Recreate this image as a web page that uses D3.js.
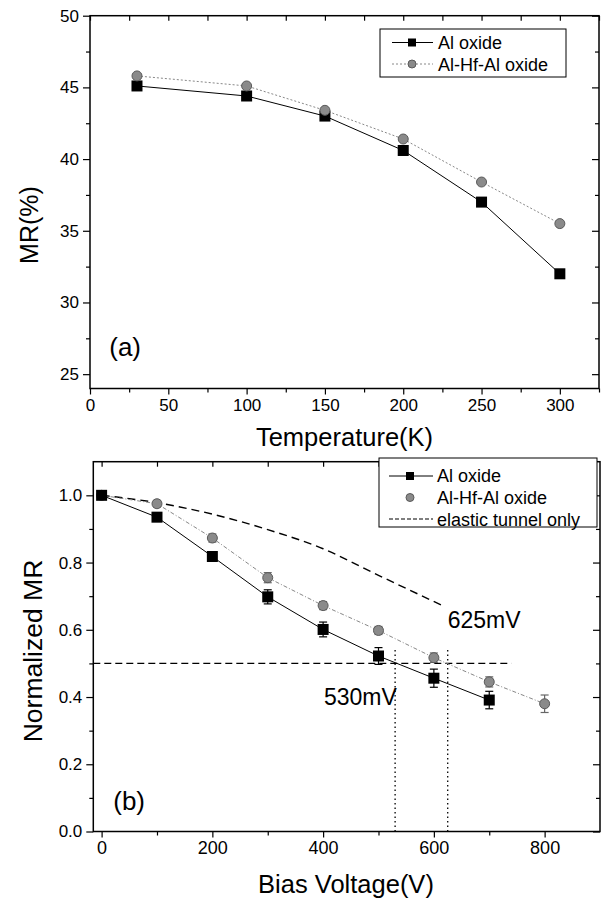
<!DOCTYPE html>
<html>
<head>
<meta charset="utf-8">
<script src="https://cdn.jsdelivr.net/npm/d3@7"></script>
<style>
  body { margin: 0; background: #fff; }
  svg { display: block; font-family: "Liberation Sans", Arial, Helvetica, sans-serif; }
  .tick text { fill: #000; }
</style>
</head>
<body>
<svg id="chart" width="606" height="899"></svg>
<script>
// ---------- Data ----------
// Panel (a): MR vs temperature
const tempK      = [30, 100, 150, 200, 250, 300];
const mrAlOx     = [45.1, 44.4, 43.0, 40.6, 37.0, 32.0];
const mrAlHfAlOx = [45.8, 45.1, 43.4, 41.4, 38.4, 35.5];
const tempTicks  = [0, 50, 100, 150, 200, 250, 300];
const tempMinor  = [25, 75, 125, 175, 225, 275, 325];
const mrTicks    = [25, 30, 35, 40, 45, 50];
const mrMinor    = [27.5, 32.5, 37.5, 42.5, 47.5];

// Panel (b): normalized MR vs bias voltage
const biasAl      = [0, 100, 200, 300, 400, 500, 600, 700];
const normAl      = [1.0, 0.935, 0.818, 0.698, 0.601, 0.522, 0.456, 0.391];
const errAl       = [0.008, 0.010, 0.010, 0.021, 0.022, 0.025, 0.027, 0.026];
const biasHf      = [0, 100, 200, 300, 400, 500, 600, 700, 800];
const normHf      = [1.0, 0.975, 0.873, 0.755, 0.672, 0.598, 0.517, 0.445, 0.380];
const errHf       = [0.006, 0.010, 0.012, 0.015, 0.012, 0.012, 0.014, 0.015, 0.026];
const elasticV    = [0, 100, 200, 300, 400, 500, 617];
const elasticMR   = [1.0, 0.978, 0.944, 0.898, 0.841, 0.762, 0.671];
const halfLevel   = [0.5];
const crossV      = [530, 625];
const biasTicks   = [0, 200, 400, 600, 800];
const biasMinor   = [100, 300, 500, 700];
const normTicks   = [0.0, 0.2, 0.4, 0.6, 0.8, 1.0];
const normMinor   = [0.1, 0.3, 0.5, 0.7, 0.9];

const svg = d3.select("#chart");
const FONT_TICK = 17;

function frame(g, x, y) {
  const [x0, x1] = x.range(), [y0, y1] = y.range();
  g.append("rect").attr("x", x0).attr("y", y1).attr("width", x1 - x0).attr("height", y0 - y1)
    .attr("fill", "none").attr("stroke", "#000").attr("stroke-width", 1.5);
}

function axes(g, x, y, xMajor, xMinor, yMajor, yMinor, xFmt, yFmt, xFont) {
  const [x0, x1] = x.range(), [y0, y1] = y.range();
  const b = g.append("g").attr("transform", `translate(0,${y0})`)
    .call(d3.axisBottom(x).tickValues(xMajor).tickSize(6).tickPadding(4).tickFormat(xFmt));
  b.selectAll("text").attr("font-size", xFont).attr("font-family", "Liberation Sans, Arial");
  g.append("g").attr("transform", `translate(0,${y0})`)
    .call(d3.axisBottom(x).tickValues(xMinor).tickSize(4).tickFormat(""));
  g.append("g").attr("transform", `translate(0,${y1})`)
    .call(d3.axisTop(x).tickValues(xMajor.concat(xMinor)).tickSize(-5).tickFormat(""));
  const l = g.append("g").attr("transform", `translate(${x0},0)`)
    .call(d3.axisLeft(y).tickValues(yMajor).tickSize(7).tickPadding(4).tickFormat(yFmt));
  l.selectAll("text").attr("font-size", FONT_TICK).attr("font-family", "Liberation Sans, Arial");
  g.append("g").attr("transform", `translate(${x0},0)`)
    .call(d3.axisLeft(y).tickValues(yMinor).tickSize(4).tickFormat(""));
  g.append("g").attr("transform", `translate(${x1},0)`)
    .call(d3.axisRight(y).tickValues(yMajor).tickSize(-7).tickFormat(""));
  g.append("g").attr("transform", `translate(${x1},0)`)
    .call(d3.axisRight(y).tickValues(yMinor).tickSize(-4).tickFormat(""));
  g.selectAll(".domain").remove();
  g.selectAll(".tick line").attr("stroke", "#000").attr("stroke-width", 1.2);
  frame(g, x, y);
}

function squares(g, xs, ys, x, y, s) {
  g.selectAll(null).data(xs.map((v, i) => [v, ys[i]])).join("rect")
    .attr("x", d => x(d[0]) - s / 2).attr("y", d => y(d[1]) - s / 2)
    .attr("width", s).attr("height", s).attr("fill", "#000");
}
function circles(g, xs, ys, x, y, r) {
  g.selectAll(null).data(xs.map((v, i) => [v, ys[i]])).join("circle")
    .attr("cx", d => x(d[0])).attr("cy", d => y(d[1])).attr("r", r)
    .attr("fill", "#8a8a8a").attr("stroke", "#5a5a5a").attr("stroke-width", 1);
}
function errorBars(g, xs, ys, es, x, y, color) {
  const data = xs.map((v, i) => [v, ys[i], es[i]]);
  const eb = g.append("g").attr("stroke", color).attr("stroke-width", 1.2);
  eb.selectAll(null).data(data).join("line")
    .attr("x1", d => x(d[0])).attr("x2", d => x(d[0]))
    .attr("y1", d => y(d[1] - d[2])).attr("y2", d => y(d[1] + d[2]));
  eb.selectAll(null).data(data.flatMap(d => [[d[0], d[1] - d[2]], [d[0], d[1] + d[2]]])).join("line")
    .attr("x1", d => x(d[0]) - 4).attr("x2", d => x(d[0]) + 4)
    .attr("y1", d => y(d[1])).attr("y2", d => y(d[1]));
}

// ================= Panel (a) =================
const xa = d3.scaleLinear().domain([0, 325]).range([90, 599]);
const ya = d3.scaleLinear().domain([24, 50]).range([388.5, 15.7]);
const ga = svg.append("g");
axes(ga, xa, ya, tempTicks, tempMinor, mrTicks, mrMinor, d3.format("d"), d3.format("d"), FONT_TICK);

const lineA = d3.line().x(d => xa(d[0])).y(d => ya(d[1]));
ga.append("path").datum(tempK.map((v, i) => [v, mrAlOx[i]])).attr("d", lineA)
  .attr("fill", "none").attr("stroke", "#000").attr("stroke-width", 1);
ga.append("path").datum(tempK.map((v, i) => [v, mrAlHfAlOx[i]])).attr("d", lineA)
  .attr("fill", "none").attr("stroke", "#888").attr("stroke-width", 1).attr("stroke-dasharray", "2,2");
squares(ga, tempK, mrAlOx, xa, ya, 11);
circles(ga, tempK, mrAlHfAlOx, xa, ya, 5);

ga.append("text").attr("x", xa(12.3)).attr("y", ya(26.3)).attr("font-size", 26).text("(a)");

// Legend (a)
const la = ga.append("g");
la.append("rect").attr("x", 380).attr("y", 29).attr("width", 186).attr("height", 48)
  .attr("fill", "#fff").attr("stroke", "#000").attr("stroke-width", 1);
la.append("line").attr("x1", 392).attr("x2", 433).attr("y1", 42.5).attr("y2", 42.5).attr("stroke", "#000");
la.append("rect").attr("x", 408).attr("y", 38.5).attr("width", 8).attr("height", 8).attr("fill", "#000");
la.append("line").attr("x1", 392).attr("x2", 433).attr("y1", 64).attr("y2", 64)
  .attr("stroke", "#888").attr("stroke-dasharray", "2,2");
la.append("circle").attr("cx", 412).attr("cy", 64).attr("r", 4).attr("fill", "#8a8a8a").attr("stroke", "#5a5a5a");
la.append("text").attr("x", 438).attr("y", 49).attr("font-size", 18).text("Al oxide");
la.append("text").attr("x", 438).attr("y", 70.5).attr("font-size", 18).text("Al-Hf-Al oxide");

// Axis titles (a)
svg.append("text").attr("x", 344.5).attr("y", 446).attr("text-anchor", "middle")
  .attr("font-size", 25.5).text("Temperature(K)");
svg.append("text").attr("transform", "translate(38,225) rotate(-90)").attr("text-anchor", "middle")
  .attr("font-size", 25).text("MR(%)");

// ================= Panel (b) =================
const xb = d3.scaleLinear().domain([-15, 900]).range([93.3, 600]);
const yb = d3.scaleLinear().domain([0, 1.1]).range([831.5, 461.7]);
const gb = svg.append("g");
axes(gb, xb, yb, biasTicks, biasMinor, normTicks, normMinor, d3.format("d"), d3.format(".1f"), 18);

gb.append("line").attr("x1", xb(-15)).attr("x2", xb(740)).attr("y1", yb(halfLevel[0])).attr("y2", yb(halfLevel[0]))
  .attr("stroke", "#000").attr("stroke-width", 1.3).attr("stroke-dasharray", "7,4");
gb.selectAll(null).data(crossV).join("line")
  .attr("x1", d => xb(d)).attr("x2", d => xb(d)).attr("y1", yb(0)).attr("y2", yb(0.54))
  .attr("stroke", "#000").attr("stroke-width", 1.3).attr("stroke-dasharray", "1.5,3");

gb.append("path").datum(elasticV.map((v, i) => [v, elasticMR[i]]))
  .attr("d", d3.line().curve(d3.curveMonotoneX).x(d => xb(d[0])).y(d => yb(d[1])))
  .attr("fill", "none").attr("stroke", "#000").attr("stroke-width", 1.4).attr("stroke-dasharray", "8,5");

const lineB = d3.line().x(d => xb(d[0])).y(d => yb(d[1]));
gb.append("path").datum(biasHf.map((v, i) => [v, normHf[i]])).attr("d", lineB)
  .attr("fill", "none").attr("stroke", "#888").attr("stroke-width", 1).attr("stroke-dasharray", "4,2,1,2");
gb.append("path").datum(biasAl.map((v, i) => [v, normAl[i]])).attr("d", lineB)
  .attr("fill", "none").attr("stroke", "#000").attr("stroke-width", 1);

errorBars(gb, biasHf, normHf, errHf, xb, yb, "#666");
circles(gb, biasHf, normHf, xb, yb, 5);
errorBars(gb, biasAl, normAl, errAl, xb, yb, "#000");
squares(gb, biasAl, normAl, xb, yb, 11);

gb.append("text").attr("x", xb(625)).attr("y", yb(0.605)).attr("font-size", 23).text("625mV");
gb.append("text").attr("x", xb(533)).attr("y", yb(0.376)).attr("text-anchor", "end").attr("font-size", 23).text("530mV");
gb.append("text").attr("x", xb(21)).attr("y", yb(0.064)).attr("font-size", 26).text("(b)");

// Legend (b)
const lb = gb.append("g");
lb.append("rect").attr("x", 379).attr("y", 458).attr("width", 218).attr("height", 69)
  .attr("fill", "#fff").attr("stroke", "#000").attr("stroke-width", 1);
lb.append("line").attr("x1", 389).attr("x2", 433).attr("y1", 476).attr("y2", 476).attr("stroke", "#000");
lb.append("rect").attr("x", 406).attr("y", 472).attr("width", 8).attr("height", 8).attr("fill", "#000");
lb.append("circle").attr("cx", 410).attr("cy", 497.5).attr("r", 4).attr("fill", "#8a8a8a").attr("stroke", "#5a5a5a");
lb.append("line").attr("x1", 389).attr("x2", 433).attr("y1", 519).attr("y2", 519)
  .attr("stroke", "#000").attr("stroke-width", 1.2).attr("stroke-dasharray", "4,2");
lb.append("text").attr("x", 437).attr("y", 482).attr("font-size", 18).text("Al oxide");
lb.append("text").attr("x", 437).attr("y", 504).attr("font-size", 18).text("Al-Hf-Al oxide");
lb.append("text").attr("x", 437).attr("y", 525.5).attr("font-size", 18).text("elastic tunnel only");

// Axis titles (b)
svg.append("text").attr("x", 346).attr("y", 893).attr("text-anchor", "middle")
  .attr("font-size", 25.5).text("Bias Voltage(V)");
svg.append("text").attr("transform", "translate(42,651) rotate(-90)").attr("text-anchor", "middle")
  .attr("font-size", 26.5).text("Normalized MR");
</script>
</body>
</html>
